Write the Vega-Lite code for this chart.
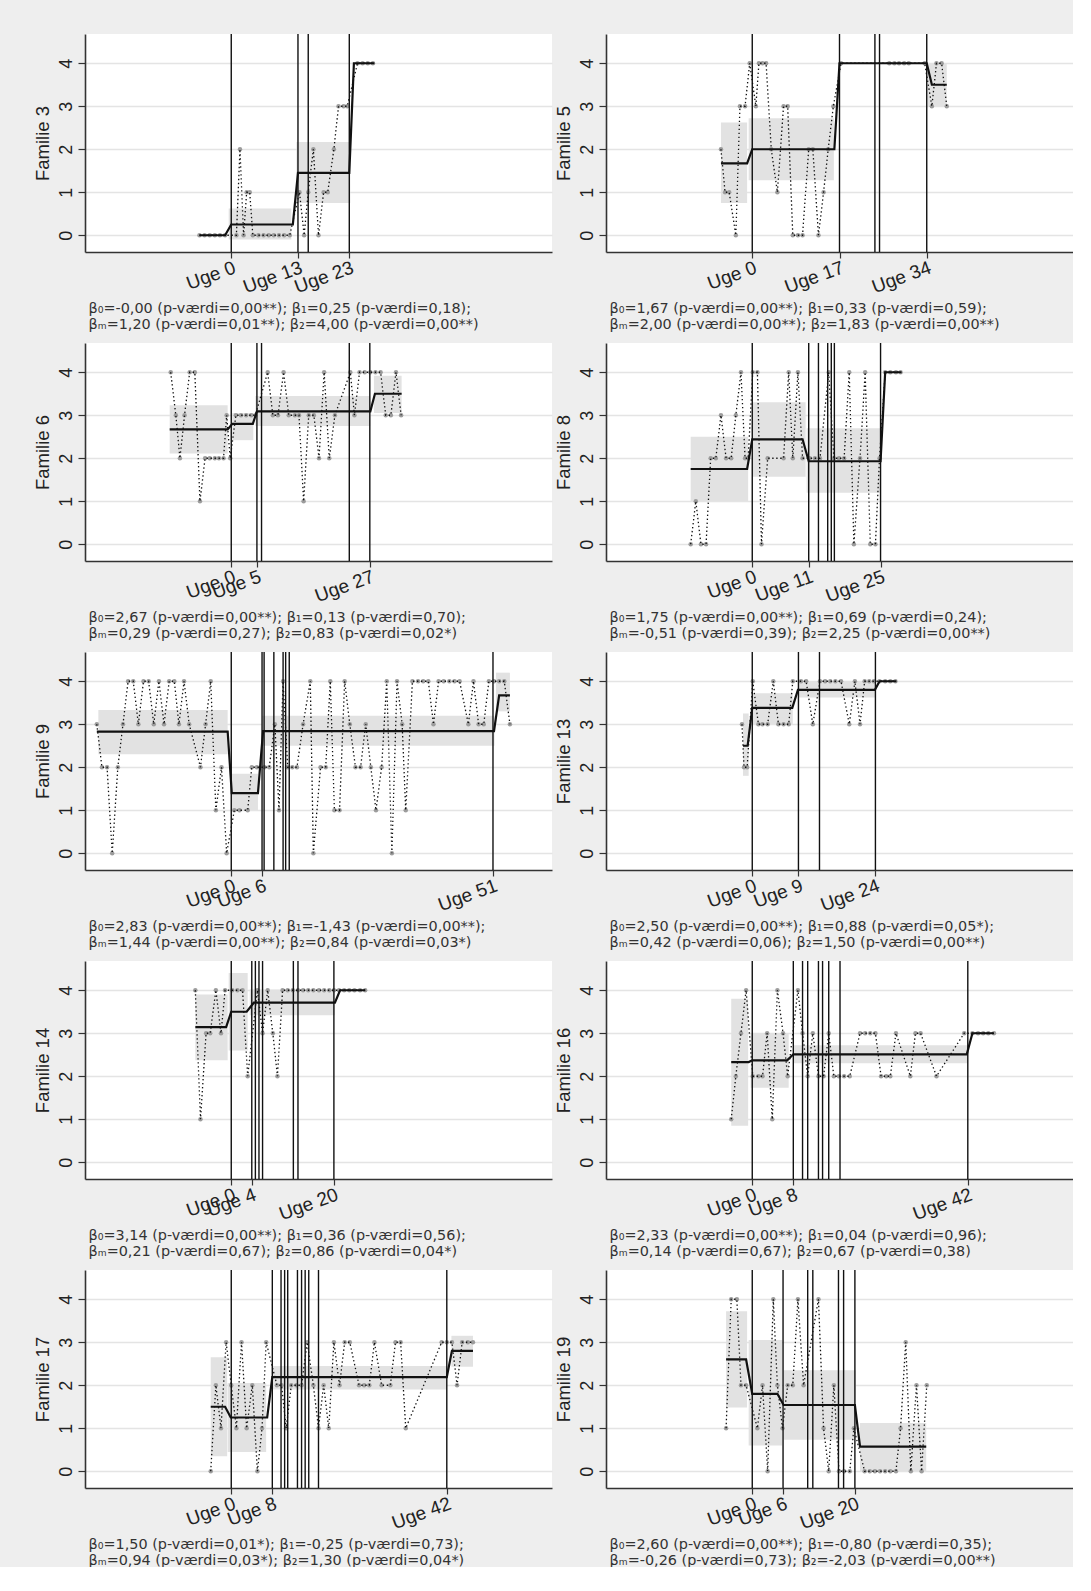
{
  "$schema": "https://vega.github.io/schema/vega-lite/v6.json",
  "background": "#eeeeee",
  "padding": {"left": 33, "top": 33, "right": 0, "bottom": 0},
  "columns": 2,
  "spacing": {"row": 91, "column": 54},
  "bounds": "flush",
  "config": {
    "view": {"stroke": null, "fill": "white"},
    "font": "Liberation Sans",
    "axis": {
      "domainColor": "#333333", "domainWidth": 1.6, "tickColor": "#333333", "tickWidth": 1.2,
      "labelColor": "#222222", "titleColor": "#222222", "labelFont": "Liberation Sans",
      "titleFont": "Liberation Sans", "titleFontWeight": "normal"
    },
    "axisX": {
      "grid": false, "tickSize": 6, "labelAngle": -20, "labelAlign": "right", "labelBaseline": "top",
      "labelFontSize": 19, "labelPadding": 0, "labelOverlap": false, "labelFlush": false,
      "titleFont": "DejaVu Sans", "titleFontSize": 14.4, "titleAnchor": "start", "titleAlign": "left",
      "titleBaseline": "top", "titleX": 3, "titleY": 49, "titleLineHeight": 16.5, "titleColor": "#333333"
    },
    "axisY": {
      "grid": true, "gridColor": "#e4e4e4", "gridWidth": 1.6, "tickCount": 5, "tickSize": 7,
      "labelAngle": -90, "labelAlign": "center", "labelBaseline": "bottom", "labelFontSize": 18,
      "labelPadding": 3, "titleFontSize": 18.5, "titlePadding": 5
    }
  },
  "datasets": {
    "band": [
      {"f": 3, "x": -0.5, "x2": 11.7, "y": -0.1, "y2": 0.62},
      {"f": 3, "x": 12.7, "x2": 23.2, "y": 0.75, "y2": 2.17},
      {"f": 5, "x": -6.1, "x2": -1.0, "y": 0.75, "y2": 2.62},
      {"f": 5, "x": -0.7, "x2": 15.9, "y": 1.28, "y2": 2.72},
      {"f": 5, "x": 34.2, "x2": 37.9, "y": 3.0, "y2": 4.0},
      {"f": 6, "x": -12.0, "x2": -0.7, "y": 2.11, "y2": 3.23},
      {"f": 6, "x": 0.2, "x2": 4.3, "y": 2.42, "y2": 3.05},
      {"f": 6, "x": 4.7, "x2": 27.1, "y": 2.75, "y2": 3.45},
      {"f": 6, "x": 27.8, "x2": 33.2, "y": 3.05, "y2": 3.92},
      {"f": 8, "x": -12.0, "x2": -0.8, "y": 1.0, "y2": 2.5},
      {"f": 8, "x": 0.0, "x2": 10.4, "y": 1.57, "y2": 3.3},
      {"f": 8, "x": 10.6, "x2": 25.0, "y": 1.2, "y2": 2.7},
      {"f": 9, "x": -25.9, "x2": -0.7, "y": 2.3, "y2": 3.33},
      {"f": 9, "x": 0.1, "x2": 5.2, "y": 1.0, "y2": 1.85},
      {"f": 9, "x": 6.0, "x2": 51.3, "y": 2.5, "y2": 3.2},
      {"f": 9, "x": 51.6, "x2": 54.3, "y": 3.3, "y2": 4.2},
      {"f": 13, "x": -1.8, "x2": -0.7, "y": 1.8, "y2": 3.25},
      {"f": 13, "x": 0.0, "x2": 7.9, "y": 3.0, "y2": 3.72},
      {"f": 13, "x": 8.9, "x2": 24.0, "y": 3.62, "y2": 4.0},
      {"f": 14, "x": -7.0, "x2": -0.7, "y": 2.37, "y2": 3.9},
      {"f": 14, "x": -0.5, "x2": 3.2, "y": 2.6, "y2": 4.4},
      {"f": 14, "x": 3.6, "x2": 20.2, "y": 3.42, "y2": 4.02},
      {"f": 16, "x": -4.1, "x2": -0.8, "y": 0.85, "y2": 3.8},
      {"f": 16, "x": -0.3, "x2": 7.1, "y": 1.73, "y2": 3.0},
      {"f": 16, "x": 8.0, "x2": 42.0, "y": 2.3, "y2": 2.72},
      {"f": 17, "x": -4.0, "x2": -0.8, "y": 0.35, "y2": 2.65},
      {"f": 17, "x": -0.7, "x2": 6.8, "y": 0.45, "y2": 2.05},
      {"f": 17, "x": 7.9, "x2": 42.0, "y": 1.9, "y2": 2.45},
      {"f": 17, "x": 42.9, "x2": 47.1, "y": 2.43, "y2": 3.15},
      {"f": 19, "x": -5.1, "x2": -1.0, "y": 1.48, "y2": 3.72},
      {"f": 19, "x": -0.7, "x2": 5.8, "y": 0.6, "y2": 3.05},
      {"f": 19, "x": 6.1, "x2": 20.2, "y": 0.73, "y2": 2.35},
      {"f": 19, "x": 21.0, "x2": 33.9, "y": 0.0, "y2": 1.12}
    ],
    "fit": [
      {"f": 3, "x": -6.2, "y": 0}, {"f": 3, "x": -1.2, "y": 0}, {"f": 3, "x": 0, "y": 0.25}, {"f": 3, "x": 12, "y": 0.25},
      {"f": 3, "x": 13, "y": 1.45}, {"f": 3, "x": 23, "y": 1.45}, {"f": 3, "x": 23.9, "y": 4}, {"f": 3, "x": 27.9, "y": 4},
      {"f": 5, "x": -6.1, "y": 1.67}, {"f": 5, "x": -1.0, "y": 1.67}, {"f": 5, "x": 0, "y": 2.0}, {"f": 5, "x": 16, "y": 2.0},
      {"f": 5, "x": 17, "y": 4.0}, {"f": 5, "x": 34, "y": 4.0}, {"f": 5, "x": 35, "y": 3.5}, {"f": 5, "x": 37.9, "y": 3.5},
      {"f": 6, "x": -12, "y": 2.67}, {"f": 6, "x": -0.7, "y": 2.67}, {"f": 6, "x": 0.2, "y": 2.8}, {"f": 6, "x": 4.2, "y": 2.8},
      {"f": 6, "x": 5, "y": 3.09}, {"f": 6, "x": 27.1, "y": 3.09}, {"f": 6, "x": 28.0, "y": 3.5}, {"f": 6, "x": 33.2, "y": 3.5},
      {"f": 8, "x": -12, "y": 1.75}, {"f": 8, "x": -1, "y": 1.75}, {"f": 8, "x": 0, "y": 2.44}, {"f": 8, "x": 9.8, "y": 2.44},
      {"f": 8, "x": 11, "y": 1.93}, {"f": 8, "x": 25, "y": 1.93}, {"f": 8, "x": 25.9, "y": 4}, {"f": 8, "x": 29.1, "y": 4},
      {"f": 9, "x": -26.2, "y": 2.83}, {"f": 9, "x": -0.7, "y": 2.83}, {"f": 9, "x": 0.1, "y": 1.40}, {"f": 9, "x": 5.2, "y": 1.40},
      {"f": 9, "x": 6.2, "y": 2.84}, {"f": 9, "x": 51.2, "y": 2.84}, {"f": 9, "x": 52.2, "y": 3.67}, {"f": 9, "x": 54.3, "y": 3.67},
      {"f": 13, "x": -1.8, "y": 2.5}, {"f": 13, "x": -0.9, "y": 2.5}, {"f": 13, "x": 0, "y": 3.38}, {"f": 13, "x": 7.8, "y": 3.38},
      {"f": 13, "x": 8.9, "y": 3.8}, {"f": 13, "x": 23.9, "y": 3.8}, {"f": 13, "x": 24.8, "y": 4}, {"f": 13, "x": 28.1, "y": 4},
      {"f": 14, "x": -7, "y": 3.14}, {"f": 14, "x": -1, "y": 3.14}, {"f": 14, "x": 0, "y": 3.5}, {"f": 14, "x": 3, "y": 3.5},
      {"f": 14, "x": 4.4, "y": 3.71}, {"f": 14, "x": 20.2, "y": 3.71}, {"f": 14, "x": 21.2, "y": 4}, {"f": 14, "x": 26.1, "y": 4},
      {"f": 16, "x": -4.1, "y": 2.33}, {"f": 16, "x": -0.7, "y": 2.33}, {"f": 16, "x": 0, "y": 2.37}, {"f": 16, "x": 6.8, "y": 2.37},
      {"f": 16, "x": 8, "y": 2.51}, {"f": 16, "x": 41.8, "y": 2.51}, {"f": 16, "x": 42.9, "y": 3}, {"f": 16, "x": 47.1, "y": 3},
      {"f": 17, "x": -4, "y": 1.5}, {"f": 17, "x": -1.2, "y": 1.5}, {"f": 17, "x": -0.1, "y": 1.25}, {"f": 17, "x": 7, "y": 1.25},
      {"f": 17, "x": 8, "y": 2.19}, {"f": 17, "x": 42, "y": 2.19}, {"f": 17, "x": 43, "y": 2.8}, {"f": 17, "x": 47.1, "y": 2.8},
      {"f": 19, "x": -5.1, "y": 2.6}, {"f": 19, "x": -1.2, "y": 2.6}, {"f": 19, "x": 0, "y": 1.8}, {"f": 19, "x": 4.9, "y": 1.8},
      {"f": 19, "x": 6.1, "y": 1.54}, {"f": 19, "x": 20, "y": 1.54}, {"f": 19, "x": 21, "y": 0.57}, {"f": 19, "x": 33.9, "y": 0.57}
    ],
    "vline": [
      {"f": 3, "x": 0}, {"f": 3, "x": 13}, {"f": 3, "x": 15}, {"f": 3, "x": 23},
      {"f": 5, "x": 0}, {"f": 5, "x": 17}, {"f": 5, "x": 23.9}, {"f": 5, "x": 24.8}, {"f": 5, "x": 34},
      {"f": 6, "x": 0}, {"f": 6, "x": 5}, {"f": 6, "x": 5.9}, {"f": 6, "x": 23}, {"f": 6, "x": 27},
      {"f": 8, "x": 0}, {"f": 8, "x": 11}, {"f": 8, "x": 12.9}, {"f": 8, "x": 14.7}, {"f": 8, "x": 15.4}, {"f": 8, "x": 16.0}, {"f": 8, "x": 25},
      {"f": 9, "x": 0}, {"f": 9, "x": 6}, {"f": 9, "x": 6.4}, {"f": 9, "x": 8.3}, {"f": 9, "x": 10.1}, {"f": 9, "x": 10.6}, {"f": 9, "x": 11.3}, {"f": 9, "x": 51},
      {"f": 13, "x": 0}, {"f": 13, "x": 9}, {"f": 13, "x": 13.1}, {"f": 13, "x": 24},
      {"f": 14, "x": 0}, {"f": 14, "x": 4}, {"f": 14, "x": 4.7}, {"f": 14, "x": 5.4}, {"f": 14, "x": 6.1}, {"f": 14, "x": 12.1}, {"f": 14, "x": 13.0}, {"f": 14, "x": 20},
      {"f": 16, "x": 0}, {"f": 16, "x": 8}, {"f": 16, "x": 9.8}, {"f": 16, "x": 10.8}, {"f": 16, "x": 12.9}, {"f": 16, "x": 13.7}, {"f": 16, "x": 14.9}, {"f": 16, "x": 17.1}, {"f": 16, "x": 42},
      {"f": 17, "x": 0}, {"f": 17, "x": 8}, {"f": 17, "x": 9.7}, {"f": 17, "x": 10.4}, {"f": 17, "x": 11.0}, {"f": 17, "x": 12.9}, {"f": 17, "x": 13.7}, {"f": 17, "x": 14.4}, {"f": 17, "x": 15.1}, {"f": 17, "x": 17.0}, {"f": 17, "x": 42},
      {"f": 19, "x": 0}, {"f": 19, "x": 6}, {"f": 19, "x": 10.8}, {"f": 19, "x": 11.8}, {"f": 19, "x": 16.8}, {"f": 19, "x": 17.8}, {"f": 19, "x": 20}
    ],
    "obs": [
      {"f": 3, "x": -6.2, "y": 0}, {"f": 3, "x": -5.2, "y": 0}, {"f": 3, "x": -4.2, "y": 0}, {"f": 3, "x": -3.2, "y": 0}, {"f": 3, "x": -2.2, "y": 0}, {"f": 3, "x": -1.2, "y": 0},
      {"f": 3, "x": 1.0, "y": 0}, {"f": 3, "x": 1.7, "y": 2}, {"f": 3, "x": 2.4, "y": 0}, {"f": 3, "x": 3.0, "y": 1}, {"f": 3, "x": 3.6, "y": 1}, {"f": 3, "x": 4.2, "y": 0},
      {"f": 3, "x": 5.3, "y": 0}, {"f": 3, "x": 6.3, "y": 0}, {"f": 3, "x": 7.3, "y": 0}, {"f": 3, "x": 8.3, "y": 0}, {"f": 3, "x": 9.3, "y": 0}, {"f": 3, "x": 10.3, "y": 0}, {"f": 3, "x": 11.4, "y": 0},
      {"f": 3, "x": 13.3, "y": 1}, {"f": 3, "x": 14.2, "y": 0}, {"f": 3, "x": 15.0, "y": 1}, {"f": 3, "x": 16.0, "y": 2}, {"f": 3, "x": 17.0, "y": 0}, {"f": 3, "x": 18.0, "y": 1},
      {"f": 3, "x": 18.8, "y": 1}, {"f": 3, "x": 20.0, "y": 2}, {"f": 3, "x": 20.9, "y": 3}, {"f": 3, "x": 21.9, "y": 3}, {"f": 3, "x": 22.6, "y": 3},
      {"f": 3, "x": 24.6, "y": 4}, {"f": 3, "x": 25.6, "y": 4}, {"f": 3, "x": 26.6, "y": 4}, {"f": 3, "x": 27.6, "y": 4},

      {"f": 5, "x": -6.1, "y": 2}, {"f": 5, "x": -5.3, "y": 1}, {"f": 5, "x": -4.5, "y": 1}, {"f": 5, "x": -3.2, "y": 0}, {"f": 5, "x": -2.4, "y": 3}, {"f": 5, "x": -1.4, "y": 3}, {"f": 5, "x": -0.5, "y": 4},
      {"f": 5, "x": 0.7, "y": 3}, {"f": 5, "x": 1.3, "y": 4}, {"f": 5, "x": 2.0, "y": 4}, {"f": 5, "x": 2.7, "y": 4}, {"f": 5, "x": 3.7, "y": 2}, {"f": 5, "x": 4.9, "y": 1},
      {"f": 5, "x": 6.1, "y": 3}, {"f": 5, "x": 6.9, "y": 3}, {"f": 5, "x": 7.9, "y": 0}, {"f": 5, "x": 8.9, "y": 0}, {"f": 5, "x": 9.8, "y": 0}, {"f": 5, "x": 11.0, "y": 2},
      {"f": 5, "x": 11.8, "y": 2}, {"f": 5, "x": 12.9, "y": 0}, {"f": 5, "x": 13.9, "y": 1}, {"f": 5, "x": 14.8, "y": 2}, {"f": 5, "x": 15.8, "y": 3},
      {"f": 5, "x": 17.3, "y": 4}, {"f": 5, "x": 26.7, "y": 4}, {"f": 5, "x": 27.7, "y": 4}, {"f": 5, "x": 28.6, "y": 4}, {"f": 5, "x": 29.6, "y": 4}, {"f": 5, "x": 30.5, "y": 4},
      {"f": 5, "x": 33.6, "y": 4},
      {"f": 5, "x": 35.0, "y": 3}, {"f": 5, "x": 35.9, "y": 4}, {"f": 5, "x": 36.9, "y": 4}, {"f": 5, "x": 37.9, "y": 3},

      {"f": 6, "x": -11.8, "y": 4}, {"f": 6, "x": -10.8, "y": 3}, {"f": 6, "x": -10.0, "y": 2}, {"f": 6, "x": -9.1, "y": 3}, {"f": 6, "x": -8.1, "y": 4}, {"f": 6, "x": -7.1, "y": 4},
      {"f": 6, "x": -6.1, "y": 1}, {"f": 6, "x": -5.1, "y": 2}, {"f": 6, "x": -4.2, "y": 2}, {"f": 6, "x": -3.2, "y": 2}, {"f": 6, "x": -2.4, "y": 2}, {"f": 6, "x": -1.5, "y": 2},
      {"f": 6, "x": -0.9, "y": 3}, {"f": 6, "x": -0.2, "y": 2},
      {"f": 6, "x": 0.9, "y": 3}, {"f": 6, "x": 1.9, "y": 3}, {"f": 6, "x": 2.9, "y": 3}, {"f": 6, "x": 3.9, "y": 3}, {"f": 6, "x": 4.7, "y": 3},
      {"f": 6, "x": 7.1, "y": 4}, {"f": 6, "x": 8.1, "y": 3}, {"f": 6, "x": 9.1, "y": 3}, {"f": 6, "x": 10.2, "y": 4}, {"f": 6, "x": 11.2, "y": 3}, {"f": 6, "x": 12.4, "y": 3},
      {"f": 6, "x": 13.2, "y": 3}, {"f": 6, "x": 14.1, "y": 1}, {"f": 6, "x": 15.1, "y": 3}, {"f": 6, "x": 16.1, "y": 3}, {"f": 6, "x": 17.1, "y": 2}, {"f": 6, "x": 18.1, "y": 4},
      {"f": 6, "x": 19.1, "y": 2}, {"f": 6, "x": 20.2, "y": 3}, {"f": 6, "x": 23.2, "y": 4}, {"f": 6, "x": 24.0, "y": 3}, {"f": 6, "x": 25.0, "y": 4}, {"f": 6, "x": 26.0, "y": 4},
      {"f": 6, "x": 27.1, "y": 4}, {"f": 6, "x": 28.1, "y": 4}, {"f": 6, "x": 29.1, "y": 4}, {"f": 6, "x": 30.1, "y": 3}, {"f": 6, "x": 31.1, "y": 3}, {"f": 6, "x": 32.1, "y": 4}, {"f": 6, "x": 33.1, "y": 3},

      {"f": 8, "x": -12.0, "y": 0}, {"f": 8, "x": -11.0, "y": 1}, {"f": 8, "x": -10.0, "y": 0}, {"f": 8, "x": -9.0, "y": 0}, {"f": 8, "x": -8.1, "y": 2}, {"f": 8, "x": -7.1, "y": 2},
      {"f": 8, "x": -6.1, "y": 3}, {"f": 8, "x": -5.1, "y": 2}, {"f": 8, "x": -4.1, "y": 2}, {"f": 8, "x": -3.2, "y": 3}, {"f": 8, "x": -2.2, "y": 4}, {"f": 8, "x": -1.4, "y": 2}, {"f": 8, "x": -0.8, "y": 2},
      {"f": 8, "x": 0.1, "y": 4}, {"f": 8, "x": 1.0, "y": 4}, {"f": 8, "x": 1.8, "y": 0}, {"f": 8, "x": 3.0, "y": 2}, {"f": 8, "x": 6.1, "y": 2}, {"f": 8, "x": 7.1, "y": 4},
      {"f": 8, "x": 7.9, "y": 2}, {"f": 8, "x": 8.9, "y": 4}, {"f": 8, "x": 9.8, "y": 2},
      {"f": 8, "x": 11.2, "y": 2}, {"f": 8, "x": 12.2, "y": 2}, {"f": 8, "x": 13.2, "y": 2}, {"f": 8, "x": 14.9, "y": 4}, {"f": 8, "x": 15.9, "y": 2}, {"f": 8, "x": 16.9, "y": 2},
      {"f": 8, "x": 17.9, "y": 2}, {"f": 8, "x": 18.9, "y": 4}, {"f": 8, "x": 19.8, "y": 0}, {"f": 8, "x": 21.0, "y": 2}, {"f": 8, "x": 22.0, "y": 4}, {"f": 8, "x": 23.0, "y": 0},
      {"f": 8, "x": 24.0, "y": 0}, {"f": 8, "x": 24.8, "y": 2},
      {"f": 8, "x": 25.9, "y": 4}, {"f": 8, "x": 26.9, "y": 4}, {"f": 8, "x": 28.0, "y": 4}, {"f": 8, "x": 28.9, "y": 4},

      {"f": 9, "x": -26.2, "y": 3}, {"f": 9, "x": -25.2, "y": 2}, {"f": 9, "x": -24.2, "y": 2}, {"f": 9, "x": -23.2, "y": 0}, {"f": 9, "x": -22.1, "y": 2}, {"f": 9, "x": -21.1, "y": 3},
      {"f": 9, "x": -20.1, "y": 4}, {"f": 9, "x": -19.1, "y": 4}, {"f": 9, "x": -18.1, "y": 3}, {"f": 9, "x": -17.1, "y": 4}, {"f": 9, "x": -16.1, "y": 4}, {"f": 9, "x": -15.1, "y": 3},
      {"f": 9, "x": -14.1, "y": 4}, {"f": 9, "x": -13.1, "y": 3}, {"f": 9, "x": -12.1, "y": 4}, {"f": 9, "x": -11.1, "y": 4}, {"f": 9, "x": -10.2, "y": 3}, {"f": 9, "x": -9.2, "y": 4},
      {"f": 9, "x": -8.2, "y": 3}, {"f": 9, "x": -6.0, "y": 2}, {"f": 9, "x": -5.0, "y": 3}, {"f": 9, "x": -4.0, "y": 4}, {"f": 9, "x": -3.0, "y": 1}, {"f": 9, "x": -1.9, "y": 2}, {"f": 9, "x": -0.9, "y": 0},
      {"f": 9, "x": 0.6, "y": 1}, {"f": 9, "x": 1.6, "y": 1}, {"f": 9, "x": 3.2, "y": 1}, {"f": 9, "x": 4.0, "y": 2}, {"f": 9, "x": 5.0, "y": 2},
      {"f": 9, "x": 6.5, "y": 2}, {"f": 9, "x": 7.4, "y": 2}, {"f": 9, "x": 8.5, "y": 3}, {"f": 9, "x": 9.3, "y": 1}, {"f": 9, "x": 10.1, "y": 4}, {"f": 9, "x": 11.0, "y": 2},
      {"f": 9, "x": 11.9, "y": 2}, {"f": 9, "x": 12.8, "y": 2}, {"f": 9, "x": 14.0, "y": 3}, {"f": 9, "x": 15.4, "y": 4}, {"f": 9, "x": 16.0, "y": 0}, {"f": 9, "x": 17.4, "y": 2},
      {"f": 9, "x": 18.4, "y": 2}, {"f": 9, "x": 19.3, "y": 4}, {"f": 9, "x": 20.1, "y": 1}, {"f": 9, "x": 21.1, "y": 1}, {"f": 9, "x": 22.1, "y": 4}, {"f": 9, "x": 23.1, "y": 3},
      {"f": 9, "x": 24.2, "y": 2}, {"f": 9, "x": 25.2, "y": 2}, {"f": 9, "x": 26.2, "y": 3}, {"f": 9, "x": 27.2, "y": 2}, {"f": 9, "x": 28.2, "y": 1}, {"f": 9, "x": 29.3, "y": 2},
      {"f": 9, "x": 30.3, "y": 4}, {"f": 9, "x": 31.3, "y": 0}, {"f": 9, "x": 32.3, "y": 4}, {"f": 9, "x": 33.3, "y": 3}, {"f": 9, "x": 34.0, "y": 1}, {"f": 9, "x": 35.3, "y": 4},
      {"f": 9, "x": 36.4, "y": 4}, {"f": 9, "x": 37.4, "y": 4}, {"f": 9, "x": 38.4, "y": 4}, {"f": 9, "x": 39.4, "y": 3}, {"f": 9, "x": 40.4, "y": 4}, {"f": 9, "x": 41.4, "y": 4},
      {"f": 9, "x": 42.5, "y": 4}, {"f": 9, "x": 43.5, "y": 4}, {"f": 9, "x": 44.5, "y": 4}, {"f": 9, "x": 46.2, "y": 3}, {"f": 9, "x": 47.2, "y": 4}, {"f": 9, "x": 48.2, "y": 3},
      {"f": 9, "x": 49.2, "y": 3}, {"f": 9, "x": 50.2, "y": 4},
      {"f": 9, "x": 51.2, "y": 4}, {"f": 9, "x": 52.2, "y": 4}, {"f": 9, "x": 53.2, "y": 4}, {"f": 9, "x": 54.3, "y": 3},

      {"f": 13, "x": -2.0, "y": 3}, {"f": 13, "x": -1.6, "y": 2}, {"f": 13, "x": -1.0, "y": 2},
      {"f": 13, "x": 0.1, "y": 4}, {"f": 13, "x": 1.2, "y": 3}, {"f": 13, "x": 2.0, "y": 3}, {"f": 13, "x": 3.0, "y": 3}, {"f": 13, "x": 4.1, "y": 4}, {"f": 13, "x": 5.1, "y": 3},
      {"f": 13, "x": 6.1, "y": 3}, {"f": 13, "x": 7.1, "y": 3}, {"f": 13, "x": 7.9, "y": 4},
      {"f": 13, "x": 9.5, "y": 4}, {"f": 13, "x": 10.5, "y": 4}, {"f": 13, "x": 11.8, "y": 3}, {"f": 13, "x": 13.2, "y": 4}, {"f": 13, "x": 14.2, "y": 4}, {"f": 13, "x": 15.2, "y": 4},
      {"f": 13, "x": 16.2, "y": 4}, {"f": 13, "x": 17.3, "y": 4}, {"f": 13, "x": 18.9, "y": 3}, {"f": 13, "x": 20.0, "y": 4}, {"f": 13, "x": 21.0, "y": 3}, {"f": 13, "x": 21.9, "y": 4},
      {"f": 13, "x": 22.8, "y": 4}, {"f": 13, "x": 23.7, "y": 4},
      {"f": 13, "x": 24.8, "y": 4}, {"f": 13, "x": 25.9, "y": 4}, {"f": 13, "x": 26.9, "y": 4}, {"f": 13, "x": 27.9, "y": 4},

      {"f": 14, "x": -7.0, "y": 4}, {"f": 14, "x": -6.0, "y": 1}, {"f": 14, "x": -4.9, "y": 3}, {"f": 14, "x": -4.1, "y": 3}, {"f": 14, "x": -3.0, "y": 4}, {"f": 14, "x": -2.0, "y": 3}, {"f": 14, "x": -1.2, "y": 4},
      {"f": 14, "x": 0.2, "y": 4}, {"f": 14, "x": 1.2, "y": 4}, {"f": 14, "x": 2.2, "y": 4}, {"f": 14, "x": 3.2, "y": 2},
      {"f": 14, "x": 5.1, "y": 4}, {"f": 14, "x": 6.1, "y": 3}, {"f": 14, "x": 7.1, "y": 4}, {"f": 14, "x": 8.1, "y": 3}, {"f": 14, "x": 9.0, "y": 2}, {"f": 14, "x": 10.0, "y": 4},
      {"f": 14, "x": 11.0, "y": 4}, {"f": 14, "x": 12.0, "y": 4}, {"f": 14, "x": 13.0, "y": 4}, {"f": 14, "x": 14.0, "y": 4}, {"f": 14, "x": 15.0, "y": 4}, {"f": 14, "x": 16.0, "y": 4},
      {"f": 14, "x": 17.1, "y": 4}, {"f": 14, "x": 18.1, "y": 4}, {"f": 14, "x": 19.1, "y": 4}, {"f": 14, "x": 20.0, "y": 4},
      {"f": 14, "x": 21.0, "y": 4}, {"f": 14, "x": 22.0, "y": 4}, {"f": 14, "x": 23.0, "y": 4}, {"f": 14, "x": 24.0, "y": 4}, {"f": 14, "x": 25.1, "y": 4}, {"f": 14, "x": 26.1, "y": 4},

      {"f": 16, "x": -4.1, "y": 1}, {"f": 16, "x": -3.2, "y": 2}, {"f": 16, "x": -2.2, "y": 3}, {"f": 16, "x": -1.2, "y": 4},
      {"f": 16, "x": 0.1, "y": 2}, {"f": 16, "x": 1.2, "y": 2}, {"f": 16, "x": 2.0, "y": 2}, {"f": 16, "x": 2.9, "y": 3}, {"f": 16, "x": 3.9, "y": 1}, {"f": 16, "x": 4.9, "y": 4},
      {"f": 16, "x": 6.0, "y": 3}, {"f": 16, "x": 6.9, "y": 2},
      {"f": 16, "x": 8.9, "y": 4}, {"f": 16, "x": 9.8, "y": 3}, {"f": 16, "x": 10.8, "y": 2}, {"f": 16, "x": 11.8, "y": 3}, {"f": 16, "x": 12.9, "y": 2}, {"f": 16, "x": 13.9, "y": 2},
      {"f": 16, "x": 14.9, "y": 3}, {"f": 16, "x": 15.9, "y": 2}, {"f": 16, "x": 16.9, "y": 2}, {"f": 16, "x": 17.9, "y": 2}, {"f": 16, "x": 19.0, "y": 2}, {"f": 16, "x": 21.0, "y": 3},
      {"f": 16, "x": 22.0, "y": 3}, {"f": 16, "x": 23.0, "y": 3}, {"f": 16, "x": 24.0, "y": 3}, {"f": 16, "x": 25.1, "y": 2}, {"f": 16, "x": 26.1, "y": 2}, {"f": 16, "x": 26.9, "y": 2},
      {"f": 16, "x": 28.0, "y": 3}, {"f": 16, "x": 30.8, "y": 2}, {"f": 16, "x": 31.8, "y": 3}, {"f": 16, "x": 32.8, "y": 3}, {"f": 16, "x": 35.9, "y": 2}, {"f": 16, "x": 41.3, "y": 3},
      {"f": 16, "x": 42.9, "y": 3}, {"f": 16, "x": 44.0, "y": 3}, {"f": 16, "x": 45.0, "y": 3}, {"f": 16, "x": 46.0, "y": 3}, {"f": 16, "x": 47.1, "y": 3},

      {"f": 17, "x": -4.0, "y": 0}, {"f": 17, "x": -3.0, "y": 2}, {"f": 17, "x": -2.0, "y": 1}, {"f": 17, "x": -1.0, "y": 3},
      {"f": 17, "x": 0.0, "y": 2}, {"f": 17, "x": 1.0, "y": 1}, {"f": 17, "x": 2.0, "y": 3}, {"f": 17, "x": 3.0, "y": 1}, {"f": 17, "x": 4.1, "y": 2}, {"f": 17, "x": 5.1, "y": 0},
      {"f": 17, "x": 6.0, "y": 1}, {"f": 17, "x": 6.8, "y": 3},
      {"f": 17, "x": 8.9, "y": 2}, {"f": 17, "x": 9.8, "y": 2}, {"f": 17, "x": 10.7, "y": 1}, {"f": 17, "x": 11.7, "y": 2}, {"f": 17, "x": 12.7, "y": 2}, {"f": 17, "x": 13.7, "y": 2},
      {"f": 17, "x": 14.8, "y": 3}, {"f": 17, "x": 16.0, "y": 2}, {"f": 17, "x": 17.0, "y": 1}, {"f": 17, "x": 18.0, "y": 2}, {"f": 17, "x": 19.0, "y": 1}, {"f": 17, "x": 20.0, "y": 3},
      {"f": 17, "x": 21.1, "y": 2}, {"f": 17, "x": 22.1, "y": 3}, {"f": 17, "x": 23.1, "y": 3}, {"f": 17, "x": 24.9, "y": 2}, {"f": 17, "x": 25.9, "y": 2}, {"f": 17, "x": 26.9, "y": 2},
      {"f": 17, "x": 27.9, "y": 3}, {"f": 17, "x": 29.3, "y": 2}, {"f": 17, "x": 31.0, "y": 2}, {"f": 17, "x": 32.0, "y": 3}, {"f": 17, "x": 33.0, "y": 3}, {"f": 17, "x": 34.0, "y": 1},
      {"f": 17, "x": 41.0, "y": 3},
      {"f": 17, "x": 42.0, "y": 3}, {"f": 17, "x": 43.0, "y": 3}, {"f": 17, "x": 44.0, "y": 2}, {"f": 17, "x": 45.0, "y": 3}, {"f": 17, "x": 46.1, "y": 3}, {"f": 17, "x": 47.1, "y": 3},

      {"f": 19, "x": -5.1, "y": 1}, {"f": 19, "x": -4.1, "y": 4}, {"f": 19, "x": -3.0, "y": 4}, {"f": 19, "x": -2.2, "y": 2}, {"f": 19, "x": -1.2, "y": 2},
      {"f": 19, "x": 1.0, "y": 1}, {"f": 19, "x": 2.0, "y": 2}, {"f": 19, "x": 3.0, "y": 0}, {"f": 19, "x": 4.1, "y": 4}, {"f": 19, "x": 4.9, "y": 2}, {"f": 19, "x": 5.9, "y": 1},
      {"f": 19, "x": 6.9, "y": 2}, {"f": 19, "x": 7.9, "y": 2}, {"f": 19, "x": 8.9, "y": 4}, {"f": 19, "x": 10.0, "y": 2}, {"f": 19, "x": 12.9, "y": 4}, {"f": 19, "x": 13.9, "y": 1},
      {"f": 19, "x": 14.9, "y": 0}, {"f": 19, "x": 15.9, "y": 2}, {"f": 19, "x": 16.9, "y": 0}, {"f": 19, "x": 17.9, "y": 0}, {"f": 19, "x": 19.0, "y": 0}, {"f": 19, "x": 19.8, "y": 1},
      {"f": 19, "x": 21.9, "y": 0}, {"f": 19, "x": 22.9, "y": 0}, {"f": 19, "x": 23.9, "y": 0}, {"f": 19, "x": 24.9, "y": 0}, {"f": 19, "x": 25.9, "y": 0}, {"f": 19, "x": 26.9, "y": 0},
      {"f": 19, "x": 28.0, "y": 0}, {"f": 19, "x": 28.9, "y": 1}, {"f": 19, "x": 29.9, "y": 3}, {"f": 19, "x": 30.9, "y": 0}, {"f": 19, "x": 32.0, "y": 2}, {"f": 19, "x": 33.0, "y": 0},
      {"f": 19, "x": 34.0, "y": 2}
    ]
  },
  "concat": [
    {
      "width": 467, "height": 218,
      "encoding": {
        "x": {"field": "x", "type": "quantitative", "scale": {"domain": [-28.5, 62.5], "nice": false, "zero": false},
              "axis": {"values": [0, 13, 23], "labelExpr": "'Uge ' + datum.value",
                       "title": ["β₀=-0,00 (p-værdi=0,00**); β₁=0,25 (p-værdi=0,18);", "βₘ=1,20 (p-værdi=0,01**); β₂=4,00 (p-værdi=0,00**)"]}}
      },
      "layer": [
        {"data": {"name": "band"}, "transform": [{"filter": "datum.f == 3"}], "mark": {"type": "rect", "color": "#e2e2e2"},
         "encoding": {"x2": {"field": "x2"},
           "y": {"field": "y", "type": "quantitative", "scale": {"domain": [-0.39, 4.68], "nice": false, "zero": false}, "axis": {"title": "Familie 3"}},
           "y2": {"field": "y2"}}},
        {"data": {"name": "obs"}, "transform": [{"filter": "datum.f == 3"}], "mark": {"type": "circle", "color": "#9c9c9c", "size": 20, "opacity": 1},
         "encoding": {"y": {"field": "y", "type": "quantitative"}}},
        {"data": {"name": "obs"}, "transform": [{"filter": "datum.f == 3"}], "mark": {"type": "line", "color": "#111111", "strokeWidth": 1.3, "strokeDash": [1.4, 2.6]},
         "encoding": {"y": {"field": "y", "type": "quantitative"}, "order": {"field": "x", "type": "quantitative"}}},
        {"data": {"name": "fit"}, "transform": [{"filter": "datum.f == 3"}], "mark": {"type": "line", "color": "#111111", "strokeWidth": 2.2},
         "encoding": {"y": {"field": "y", "type": "quantitative"}, "order": {"field": "x", "type": "quantitative"}}},
        {"data": {"name": "vline"}, "transform": [{"filter": "datum.f == 3"}], "mark": {"type": "rule", "color": "#111111", "strokeWidth": 1.4},
         "encoding": {}}
      ]
    },
    {
      "width": 467, "height": 218,
      "encoding": {
        "x": {"field": "x", "type": "quantitative", "scale": {"domain": [-28.5, 62.5], "nice": false, "zero": false},
              "axis": {"values": [0, 17, 34], "labelExpr": "'Uge ' + datum.value",
                       "title": ["β₀=1,67 (p-værdi=0,00**); β₁=0,33 (p-værdi=0,59);", "βₘ=2,00 (p-værdi=0,00**); β₂=1,83 (p-værdi=0,00**)"]}}
      },
      "layer": [
        {"data": {"name": "band"}, "transform": [{"filter": "datum.f == 5"}], "mark": {"type": "rect", "color": "#e2e2e2"},
         "encoding": {"x2": {"field": "x2"},
           "y": {"field": "y", "type": "quantitative", "scale": {"domain": [-0.39, 4.68], "nice": false, "zero": false}, "axis": {"title": "Familie 5"}},
           "y2": {"field": "y2"}}},
        {"data": {"name": "obs"}, "transform": [{"filter": "datum.f == 5"}], "mark": {"type": "circle", "color": "#9c9c9c", "size": 20, "opacity": 1},
         "encoding": {"y": {"field": "y", "type": "quantitative"}}},
        {"data": {"name": "obs"}, "transform": [{"filter": "datum.f == 5"}], "mark": {"type": "line", "color": "#111111", "strokeWidth": 1.3, "strokeDash": [1.4, 2.6]},
         "encoding": {"y": {"field": "y", "type": "quantitative"}, "order": {"field": "x", "type": "quantitative"}}},
        {"data": {"name": "fit"}, "transform": [{"filter": "datum.f == 5"}], "mark": {"type": "line", "color": "#111111", "strokeWidth": 2.2},
         "encoding": {"y": {"field": "y", "type": "quantitative"}, "order": {"field": "x", "type": "quantitative"}}},
        {"data": {"name": "vline"}, "transform": [{"filter": "datum.f == 5"}], "mark": {"type": "rule", "color": "#111111", "strokeWidth": 1.4},
         "encoding": {}}
      ]
    },
    {
      "width": 467, "height": 218,
      "encoding": {
        "x": {"field": "x", "type": "quantitative", "scale": {"domain": [-28.5, 62.5], "nice": false, "zero": false},
              "axis": {"values": [0, 5, 27], "labelExpr": "'Uge ' + datum.value",
                       "title": ["β₀=2,67 (p-værdi=0,00**); β₁=0,13 (p-værdi=0,70);", "βₘ=0,29 (p-værdi=0,27); β₂=0,83 (p-værdi=0,02*)"]}}
      },
      "layer": [
        {"data": {"name": "band"}, "transform": [{"filter": "datum.f == 6"}], "mark": {"type": "rect", "color": "#e2e2e2"},
         "encoding": {"x2": {"field": "x2"},
           "y": {"field": "y", "type": "quantitative", "scale": {"domain": [-0.39, 4.68], "nice": false, "zero": false}, "axis": {"title": "Familie 6"}},
           "y2": {"field": "y2"}}},
        {"data": {"name": "obs"}, "transform": [{"filter": "datum.f == 6"}], "mark": {"type": "circle", "color": "#9c9c9c", "size": 20, "opacity": 1},
         "encoding": {"y": {"field": "y", "type": "quantitative"}}},
        {"data": {"name": "obs"}, "transform": [{"filter": "datum.f == 6"}], "mark": {"type": "line", "color": "#111111", "strokeWidth": 1.3, "strokeDash": [1.4, 2.6]},
         "encoding": {"y": {"field": "y", "type": "quantitative"}, "order": {"field": "x", "type": "quantitative"}}},
        {"data": {"name": "fit"}, "transform": [{"filter": "datum.f == 6"}], "mark": {"type": "line", "color": "#111111", "strokeWidth": 2.2},
         "encoding": {"y": {"field": "y", "type": "quantitative"}, "order": {"field": "x", "type": "quantitative"}}},
        {"data": {"name": "vline"}, "transform": [{"filter": "datum.f == 6"}], "mark": {"type": "rule", "color": "#111111", "strokeWidth": 1.4},
         "encoding": {}}
      ]
    },
    {
      "width": 467, "height": 218,
      "encoding": {
        "x": {"field": "x", "type": "quantitative", "scale": {"domain": [-28.5, 62.5], "nice": false, "zero": false},
              "axis": {"values": [0, 11, 25], "labelExpr": "'Uge ' + datum.value",
                       "title": ["β₀=1,75 (p-værdi=0,00**); β₁=0,69 (p-værdi=0,24);", "βₘ=-0,51 (p-værdi=0,39); β₂=2,25 (p-værdi=0,00**)"]}}
      },
      "layer": [
        {"data": {"name": "band"}, "transform": [{"filter": "datum.f == 8"}], "mark": {"type": "rect", "color": "#e2e2e2"},
         "encoding": {"x2": {"field": "x2"},
           "y": {"field": "y", "type": "quantitative", "scale": {"domain": [-0.39, 4.68], "nice": false, "zero": false}, "axis": {"title": "Familie 8"}},
           "y2": {"field": "y2"}}},
        {"data": {"name": "obs"}, "transform": [{"filter": "datum.f == 8"}], "mark": {"type": "circle", "color": "#9c9c9c", "size": 20, "opacity": 1},
         "encoding": {"y": {"field": "y", "type": "quantitative"}}},
        {"data": {"name": "obs"}, "transform": [{"filter": "datum.f == 8"}], "mark": {"type": "line", "color": "#111111", "strokeWidth": 1.3, "strokeDash": [1.4, 2.6]},
         "encoding": {"y": {"field": "y", "type": "quantitative"}, "order": {"field": "x", "type": "quantitative"}}},
        {"data": {"name": "fit"}, "transform": [{"filter": "datum.f == 8"}], "mark": {"type": "line", "color": "#111111", "strokeWidth": 2.2},
         "encoding": {"y": {"field": "y", "type": "quantitative"}, "order": {"field": "x", "type": "quantitative"}}},
        {"data": {"name": "vline"}, "transform": [{"filter": "datum.f == 8"}], "mark": {"type": "rule", "color": "#111111", "strokeWidth": 1.4},
         "encoding": {}}
      ]
    },
    {
      "width": 467, "height": 218,
      "encoding": {
        "x": {"field": "x", "type": "quantitative", "scale": {"domain": [-28.5, 62.5], "nice": false, "zero": false},
              "axis": {"values": [0, 6, 51], "labelExpr": "'Uge ' + datum.value",
                       "title": ["β₀=2,83 (p-værdi=0,00**); β₁=-1,43 (p-værdi=0,00**);", "βₘ=1,44 (p-værdi=0,00**); β₂=0,84 (p-værdi=0,03*)"]}}
      },
      "layer": [
        {"data": {"name": "band"}, "transform": [{"filter": "datum.f == 9"}], "mark": {"type": "rect", "color": "#e2e2e2"},
         "encoding": {"x2": {"field": "x2"},
           "y": {"field": "y", "type": "quantitative", "scale": {"domain": [-0.39, 4.68], "nice": false, "zero": false}, "axis": {"title": "Familie 9"}},
           "y2": {"field": "y2"}}},
        {"data": {"name": "obs"}, "transform": [{"filter": "datum.f == 9"}], "mark": {"type": "circle", "color": "#9c9c9c", "size": 20, "opacity": 1},
         "encoding": {"y": {"field": "y", "type": "quantitative"}}},
        {"data": {"name": "obs"}, "transform": [{"filter": "datum.f == 9"}], "mark": {"type": "line", "color": "#111111", "strokeWidth": 1.3, "strokeDash": [1.4, 2.6]},
         "encoding": {"y": {"field": "y", "type": "quantitative"}, "order": {"field": "x", "type": "quantitative"}}},
        {"data": {"name": "fit"}, "transform": [{"filter": "datum.f == 9"}], "mark": {"type": "line", "color": "#111111", "strokeWidth": 2.2},
         "encoding": {"y": {"field": "y", "type": "quantitative"}, "order": {"field": "x", "type": "quantitative"}}},
        {"data": {"name": "vline"}, "transform": [{"filter": "datum.f == 9"}], "mark": {"type": "rule", "color": "#111111", "strokeWidth": 1.4},
         "encoding": {}}
      ]
    },
    {
      "width": 467, "height": 218,
      "encoding": {
        "x": {"field": "x", "type": "quantitative", "scale": {"domain": [-28.5, 62.5], "nice": false, "zero": false},
              "axis": {"values": [0, 9, 24], "labelExpr": "'Uge ' + datum.value",
                       "title": ["β₀=2,50 (p-værdi=0,00**); β₁=0,88 (p-værdi=0,05*);", "βₘ=0,42 (p-værdi=0,06); β₂=1,50 (p-værdi=0,00**)"]}}
      },
      "layer": [
        {"data": {"name": "band"}, "transform": [{"filter": "datum.f == 13"}], "mark": {"type": "rect", "color": "#e2e2e2"},
         "encoding": {"x2": {"field": "x2"},
           "y": {"field": "y", "type": "quantitative", "scale": {"domain": [-0.39, 4.68], "nice": false, "zero": false}, "axis": {"title": "Familie 13"}},
           "y2": {"field": "y2"}}},
        {"data": {"name": "obs"}, "transform": [{"filter": "datum.f == 13"}], "mark": {"type": "circle", "color": "#9c9c9c", "size": 20, "opacity": 1},
         "encoding": {"y": {"field": "y", "type": "quantitative"}}},
        {"data": {"name": "obs"}, "transform": [{"filter": "datum.f == 13"}], "mark": {"type": "line", "color": "#111111", "strokeWidth": 1.3, "strokeDash": [1.4, 2.6]},
         "encoding": {"y": {"field": "y", "type": "quantitative"}, "order": {"field": "x", "type": "quantitative"}}},
        {"data": {"name": "fit"}, "transform": [{"filter": "datum.f == 13"}], "mark": {"type": "line", "color": "#111111", "strokeWidth": 2.2},
         "encoding": {"y": {"field": "y", "type": "quantitative"}, "order": {"field": "x", "type": "quantitative"}}},
        {"data": {"name": "vline"}, "transform": [{"filter": "datum.f == 13"}], "mark": {"type": "rule", "color": "#111111", "strokeWidth": 1.4},
         "encoding": {}}
      ]
    },
    {
      "width": 467, "height": 218,
      "encoding": {
        "x": {"field": "x", "type": "quantitative", "scale": {"domain": [-28.5, 62.5], "nice": false, "zero": false},
              "axis": {"values": [0, 4, 20], "labelExpr": "'Uge ' + datum.value",
                       "title": ["β₀=3,14 (p-værdi=0,00**); β₁=0,36 (p-værdi=0,56);", "βₘ=0,21 (p-værdi=0,67); β₂=0,86 (p-værdi=0,04*)"]}}
      },
      "layer": [
        {"data": {"name": "band"}, "transform": [{"filter": "datum.f == 14"}], "mark": {"type": "rect", "color": "#e2e2e2"},
         "encoding": {"x2": {"field": "x2"},
           "y": {"field": "y", "type": "quantitative", "scale": {"domain": [-0.39, 4.68], "nice": false, "zero": false}, "axis": {"title": "Familie 14"}},
           "y2": {"field": "y2"}}},
        {"data": {"name": "obs"}, "transform": [{"filter": "datum.f == 14"}], "mark": {"type": "circle", "color": "#9c9c9c", "size": 20, "opacity": 1},
         "encoding": {"y": {"field": "y", "type": "quantitative"}}},
        {"data": {"name": "obs"}, "transform": [{"filter": "datum.f == 14"}], "mark": {"type": "line", "color": "#111111", "strokeWidth": 1.3, "strokeDash": [1.4, 2.6]},
         "encoding": {"y": {"field": "y", "type": "quantitative"}, "order": {"field": "x", "type": "quantitative"}}},
        {"data": {"name": "fit"}, "transform": [{"filter": "datum.f == 14"}], "mark": {"type": "line", "color": "#111111", "strokeWidth": 2.2},
         "encoding": {"y": {"field": "y", "type": "quantitative"}, "order": {"field": "x", "type": "quantitative"}}},
        {"data": {"name": "vline"}, "transform": [{"filter": "datum.f == 14"}], "mark": {"type": "rule", "color": "#111111", "strokeWidth": 1.4},
         "encoding": {}}
      ]
    },
    {
      "width": 467, "height": 218,
      "encoding": {
        "x": {"field": "x", "type": "quantitative", "scale": {"domain": [-28.5, 62.5], "nice": false, "zero": false},
              "axis": {"values": [0, 8, 42], "labelExpr": "'Uge ' + datum.value",
                       "title": ["β₀=2,33 (p-værdi=0,00**); β₁=0,04 (p-værdi=0,96);", "βₘ=0,14 (p-værdi=0,67); β₂=0,67 (p-værdi=0,38)"]}}
      },
      "layer": [
        {"data": {"name": "band"}, "transform": [{"filter": "datum.f == 16"}], "mark": {"type": "rect", "color": "#e2e2e2"},
         "encoding": {"x2": {"field": "x2"},
           "y": {"field": "y", "type": "quantitative", "scale": {"domain": [-0.39, 4.68], "nice": false, "zero": false}, "axis": {"title": "Familie 16"}},
           "y2": {"field": "y2"}}},
        {"data": {"name": "obs"}, "transform": [{"filter": "datum.f == 16"}], "mark": {"type": "circle", "color": "#9c9c9c", "size": 20, "opacity": 1},
         "encoding": {"y": {"field": "y", "type": "quantitative"}}},
        {"data": {"name": "obs"}, "transform": [{"filter": "datum.f == 16"}], "mark": {"type": "line", "color": "#111111", "strokeWidth": 1.3, "strokeDash": [1.4, 2.6]},
         "encoding": {"y": {"field": "y", "type": "quantitative"}, "order": {"field": "x", "type": "quantitative"}}},
        {"data": {"name": "fit"}, "transform": [{"filter": "datum.f == 16"}], "mark": {"type": "line", "color": "#111111", "strokeWidth": 2.2},
         "encoding": {"y": {"field": "y", "type": "quantitative"}, "order": {"field": "x", "type": "quantitative"}}},
        {"data": {"name": "vline"}, "transform": [{"filter": "datum.f == 16"}], "mark": {"type": "rule", "color": "#111111", "strokeWidth": 1.4},
         "encoding": {}}
      ]
    },
    {
      "width": 467, "height": 218,
      "encoding": {
        "x": {"field": "x", "type": "quantitative", "scale": {"domain": [-28.5, 62.5], "nice": false, "zero": false},
              "axis": {"values": [0, 8, 42], "labelExpr": "'Uge ' + datum.value",
                       "title": ["β₀=1,50 (p-værdi=0,01*); β₁=-0,25 (p-værdi=0,73);", "βₘ=0,94 (p-værdi=0,03*); β₂=1,30 (p-værdi=0,04*)"]}}
      },
      "layer": [
        {"data": {"name": "band"}, "transform": [{"filter": "datum.f == 17"}], "mark": {"type": "rect", "color": "#e2e2e2"},
         "encoding": {"x2": {"field": "x2"},
           "y": {"field": "y", "type": "quantitative", "scale": {"domain": [-0.39, 4.68], "nice": false, "zero": false}, "axis": {"title": "Familie 17"}},
           "y2": {"field": "y2"}}},
        {"data": {"name": "obs"}, "transform": [{"filter": "datum.f == 17"}], "mark": {"type": "circle", "color": "#9c9c9c", "size": 20, "opacity": 1},
         "encoding": {"y": {"field": "y", "type": "quantitative"}}},
        {"data": {"name": "obs"}, "transform": [{"filter": "datum.f == 17"}], "mark": {"type": "line", "color": "#111111", "strokeWidth": 1.3, "strokeDash": [1.4, 2.6]},
         "encoding": {"y": {"field": "y", "type": "quantitative"}, "order": {"field": "x", "type": "quantitative"}}},
        {"data": {"name": "fit"}, "transform": [{"filter": "datum.f == 17"}], "mark": {"type": "line", "color": "#111111", "strokeWidth": 2.2},
         "encoding": {"y": {"field": "y", "type": "quantitative"}, "order": {"field": "x", "type": "quantitative"}}},
        {"data": {"name": "vline"}, "transform": [{"filter": "datum.f == 17"}], "mark": {"type": "rule", "color": "#111111", "strokeWidth": 1.4},
         "encoding": {}}
      ]
    },
    {
      "width": 467, "height": 218,
      "encoding": {
        "x": {"field": "x", "type": "quantitative", "scale": {"domain": [-28.5, 62.5], "nice": false, "zero": false},
              "axis": {"values": [0, 6, 20], "labelExpr": "'Uge ' + datum.value",
                       "title": ["β₀=2,60 (p-værdi=0,00**); β₁=-0,80 (p-værdi=0,35);", "βₘ=-0,26 (p-værdi=0,73); β₂=-2,03 (p-værdi=0,00**)"]}}
      },
      "layer": [
        {"data": {"name": "band"}, "transform": [{"filter": "datum.f == 19"}], "mark": {"type": "rect", "color": "#e2e2e2"},
         "encoding": {"x2": {"field": "x2"},
           "y": {"field": "y", "type": "quantitative", "scale": {"domain": [-0.39, 4.68], "nice": false, "zero": false}, "axis": {"title": "Familie 19"}},
           "y2": {"field": "y2"}}},
        {"data": {"name": "obs"}, "transform": [{"filter": "datum.f == 19"}], "mark": {"type": "circle", "color": "#9c9c9c", "size": 20, "opacity": 1},
         "encoding": {"y": {"field": "y", "type": "quantitative"}}},
        {"data": {"name": "obs"}, "transform": [{"filter": "datum.f == 19"}], "mark": {"type": "line", "color": "#111111", "strokeWidth": 1.3, "strokeDash": [1.4, 2.6]},
         "encoding": {"y": {"field": "y", "type": "quantitative"}, "order": {"field": "x", "type": "quantitative"}}},
        {"data": {"name": "fit"}, "transform": [{"filter": "datum.f == 19"}], "mark": {"type": "line", "color": "#111111", "strokeWidth": 2.2},
         "encoding": {"y": {"field": "y", "type": "quantitative"}, "order": {"field": "x", "type": "quantitative"}}},
        {"data": {"name": "vline"}, "transform": [{"filter": "datum.f == 19"}], "mark": {"type": "rule", "color": "#111111", "strokeWidth": 1.4},
         "encoding": {}}
      ]
    }
  ]
}
